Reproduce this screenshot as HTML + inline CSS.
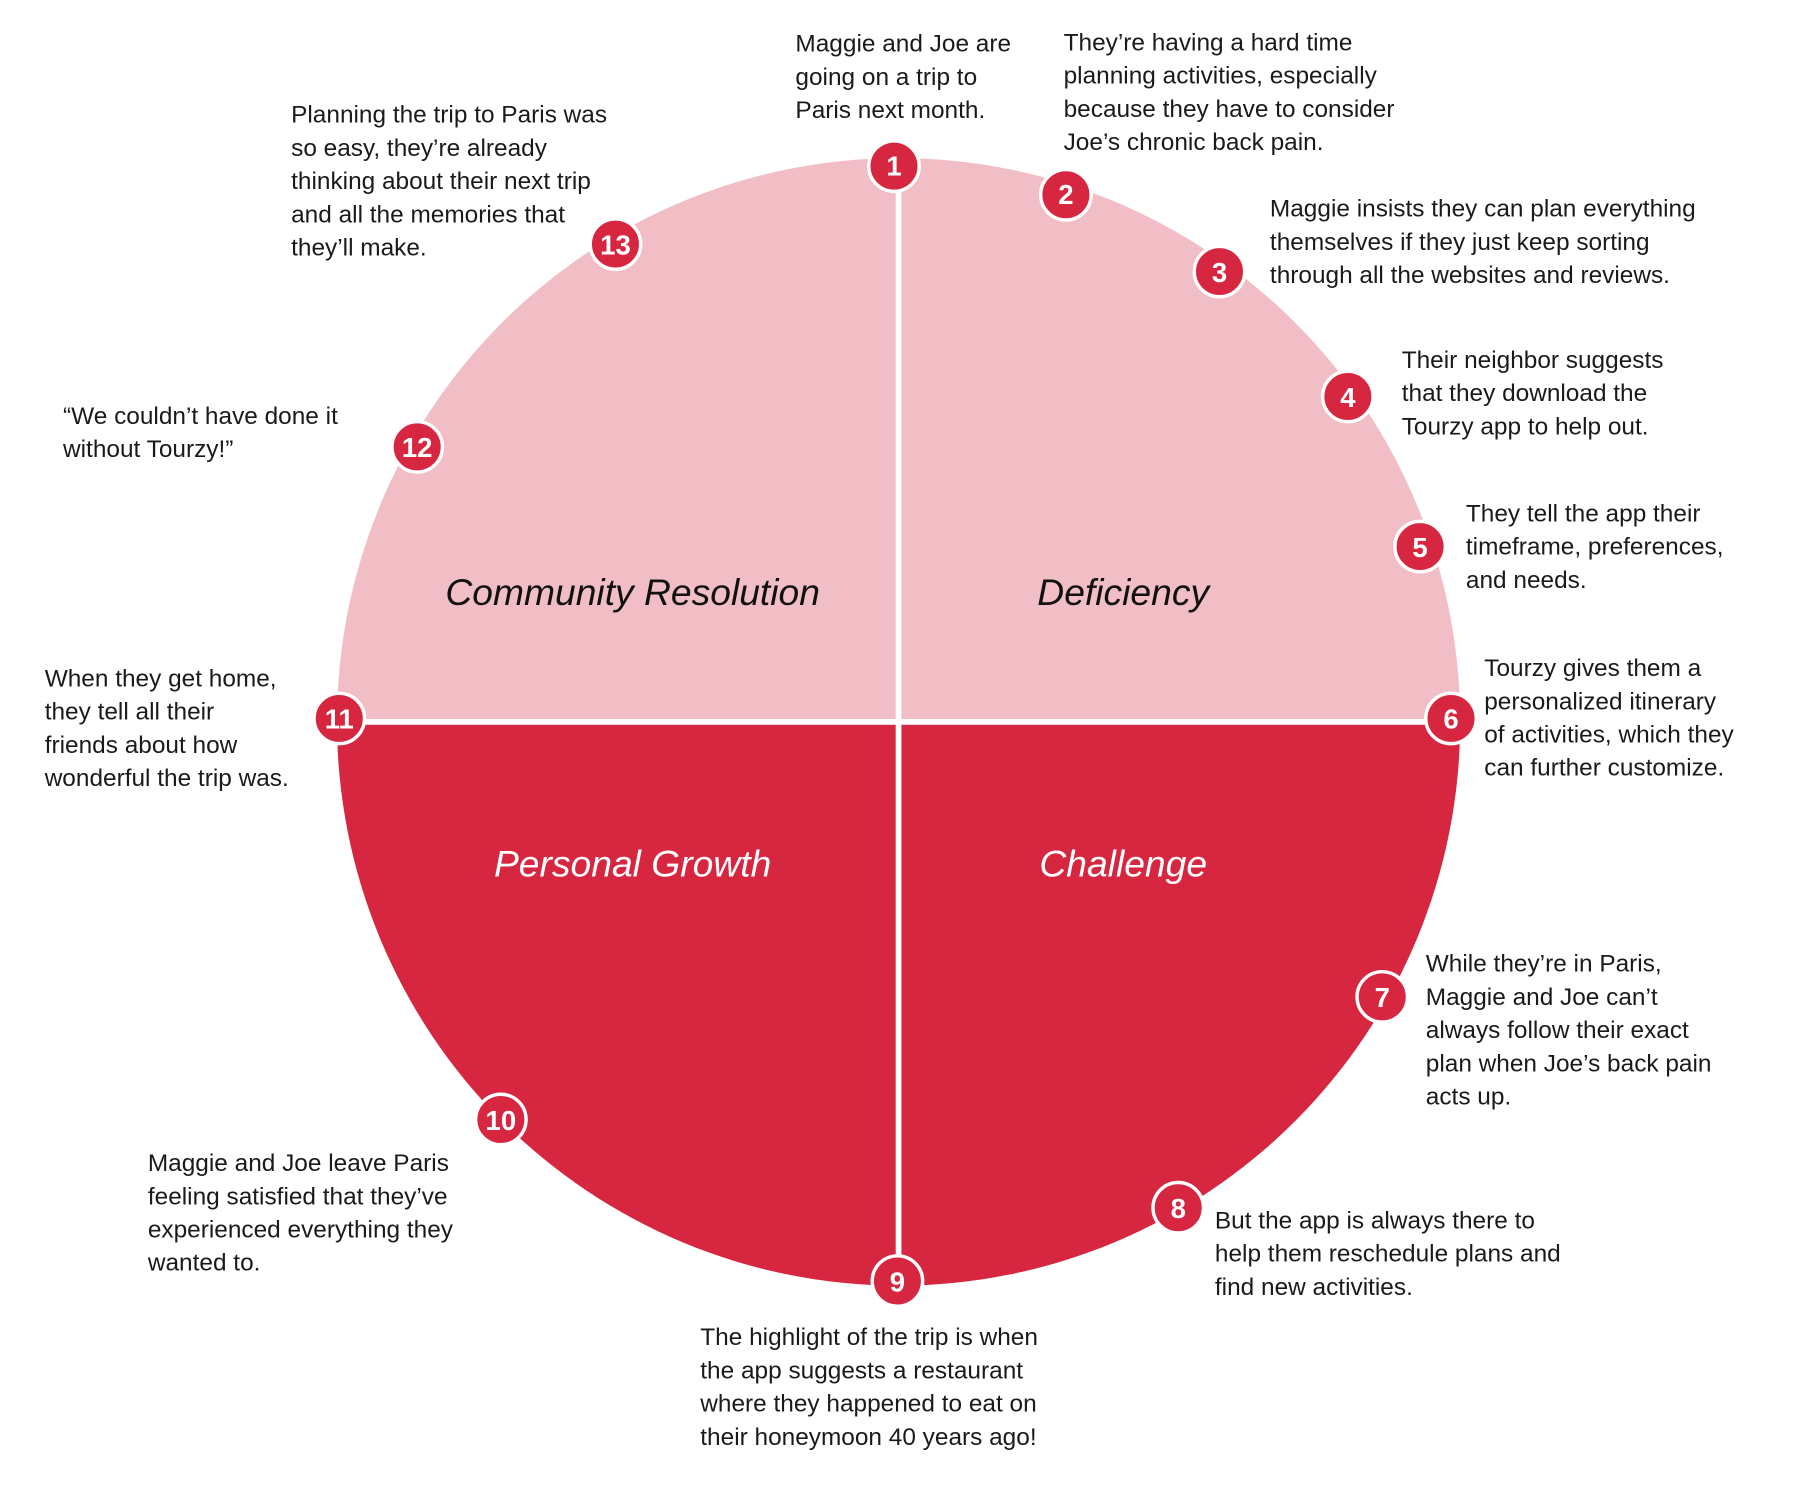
<!DOCTYPE html>
<html><head><meta charset="utf-8"><style>
html,body{margin:0;padding:0;background:#fff}
svg{display:block}
.t{font-family:"Liberation Sans",sans-serif;font-size:21.3px;fill:#1a1a1a}
.q{font-family:"Liberation Sans",sans-serif;font-size:32.5px;font-style:italic;text-anchor:middle}
.n{font-family:"Liberation Sans",sans-serif;font-size:24px;font-weight:bold;fill:#fff;text-anchor:middle}
</style></head><body>
<svg width="1796" height="1485" viewBox="0 0 1567 1296" preserveAspectRatio="none" xmlns="http://www.w3.org/2000/svg">
<path d="M294,630 A490,492 0 0 1 1274,630 Z" fill="#f2bec6"/>
<path d="M294,630 A490,492 0 0 0 1274,630 Z" fill="#d72640"/>
<line x1="784" y1="138" x2="784" y2="1122" stroke="#fff" stroke-width="5"/>
<line x1="294" y1="630" x2="1274" y2="630" stroke="#fff" stroke-width="5"/>
<text class="q" x="552" y="528" fill="#111">Community Resolution</text>
<text class="q" x="980" y="528" fill="#111">Deficiency</text>
<text class="q" x="552" y="765" fill="#fff">Personal Growth</text>
<text class="q" x="980" y="765" fill="#fff">Challenge</text>
<g stroke="#fff" stroke-width="3" fill="#d72640">
<circle cx="780" cy="145" r="22"/><circle cx="930" cy="170" r="22"/><circle cx="1064" cy="237" r="22"/>
<circle cx="1176" cy="346" r="22"/><circle cx="1239" cy="477" r="22"/><circle cx="1266" cy="627" r="22"/>
<circle cx="1206" cy="870" r="22"/><circle cx="1028" cy="1054" r="22"/><circle cx="783" cy="1118" r="22"/>
<circle cx="437" cy="977" r="22"/><circle cx="296" cy="627" r="22"/><circle cx="364" cy="390" r="22"/>
<circle cx="537" cy="213" r="22"/>
</g>
<g class="n">
<text x="780" y="153" class="n">1</text><text x="930" y="178" class="n">2</text><text x="1064" y="246" class="n">3</text>
<text x="1176" y="355" class="n">4</text><text x="1239" y="486" class="n">5</text><text x="1266" y="636" class="n">6</text>
<text x="1206" y="879" class="n">7</text><text x="1028" y="1063" class="n">8</text><text x="783" y="1127" class="n">9</text>
<text x="437" y="986" class="n">10</text><text x="296" y="636" class="n">11</text><text x="364" y="399" class="n">12</text>
<text x="537" y="222" class="n">13</text>
</g>
<g class="t">
<text x="694" y="45">Maggie and Joe are</text><text x="694" y="74">going on a trip to</text><text x="694" y="103">Paris next month.</text>
<text x="928" y="44">They’re having a hard time</text><text x="928" y="73">planning activities, especially</text><text x="928" y="102">because they have to consider</text><text x="928" y="131">Joe’s chronic back pain.</text>
<text x="1108" y="189">Maggie insists they can plan everything</text><text x="1108" y="218">themselves if they just keep sorting</text><text x="1108" y="247">through all the websites and reviews.</text>
<text x="1223" y="321">Their neighbor suggests</text><text x="1223" y="350">that they download the</text><text x="1223" y="379">Tourzy app to help out.</text>
<text x="1279" y="455">They tell the app their</text><text x="1279" y="484">timeframe, preferences,</text><text x="1279" y="513">and needs.</text>
<text x="1295" y="590">Tourzy gives them a</text><text x="1295" y="619">personalized itinerary</text><text x="1295" y="648">of activities, which they</text><text x="1295" y="677">can further customize.</text>
<text x="1244" y="848">While they’re in Paris,</text><text x="1244" y="877">Maggie and Joe can’t</text><text x="1244" y="906">always follow their exact</text><text x="1244" y="935">plan when Joe’s back pain</text><text x="1244" y="964">acts up.</text>
<text x="1060" y="1072">But the app is always there to</text><text x="1060" y="1101">help them reschedule plans and</text><text x="1060" y="1130">find new activities.</text>
<text x="611" y="1174">The highlight of the trip is when</text><text x="611" y="1203">the app suggests a restaurant</text><text x="611" y="1232">where they happened to eat on</text><text x="611" y="1261">their honeymoon 40 years ago!</text>
<text x="129" y="1022">Maggie and Joe leave Paris</text><text x="129" y="1051">feeling satisfied that they’ve</text><text x="129" y="1080">experienced everything they</text><text x="129" y="1109">wanted to.</text>
<text x="39" y="599">When they get home,</text><text x="39" y="628">they tell all their</text><text x="39" y="657">friends about how</text><text x="39" y="686">wonderful the trip was.</text>
<text x="55" y="370">“We couldn’t have done it</text><text x="55" y="399">without Tourzy!”</text>
<text x="254" y="107">Planning the trip to Paris was</text><text x="254" y="136">so easy, they’re already</text><text x="254" y="165">thinking about their next trip</text><text x="254" y="194">and all the memories that</text><text x="254" y="223">they’ll make.</text>
</g>
</svg>
</body></html>
